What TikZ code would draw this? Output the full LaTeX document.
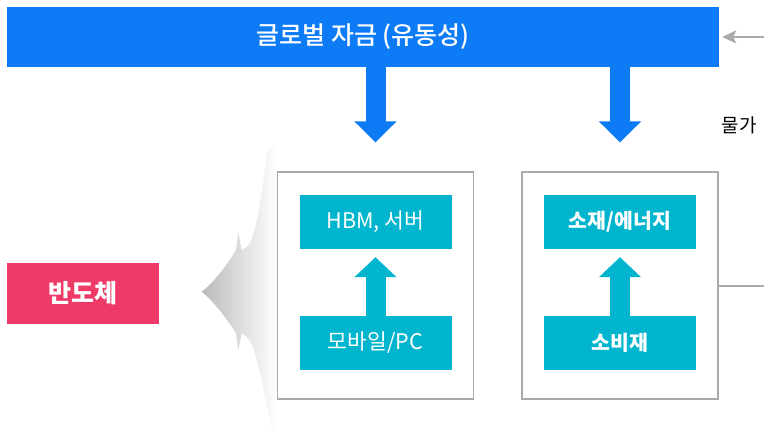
\documentclass[tikz,border=0pt]{standalone}
\usepackage{fontspec}
\setmainfont{Noto Sans CJK KR}
\newfontfamily\krmedium{Noto Sans CJK KR Medium}
\usetikzlibrary{arrows.meta}
\definecolor{fundblue}{HTML}{0D7BF6}
\definecolor{cellteal}{HTML}{00B5CD}
\definecolor{chipred}{HTML}{EE3A66}
\definecolor{linegray}{HTML}{AAAAAA}
\tikzset{
  cell/.style={fill=cellteal, text=white, inner sep=0pt, minimum width=152pt, minimum height=54pt, font=\fontsize{21.5}{24}\selectfont},
  group/.style={draw=linegray, line width=1.2pt, fill=white, inner sep=0pt, minimum width=196pt, minimum height=227pt},
  fatdown/.style={fundblue, line width=20pt, -{Triangle[length=21pt,width=41pt]}},
  fatup/.style={cellteal, line width=20pt, -{Triangle[length=20pt,width=41pt]}},
  thin/.style={linegray, line width=2pt}
}
\newcommand{\cellnode}[4]{\node[cell] (#1) at ( #2 , #3 ) {#4};}
\newcommand{\groupnode}[3]{\node[group] (#1) at ( #2 , #3 ) {};}

\begin{document}
\begin{tikzpicture}[x=1pt,y=1pt]
        \useasboundingbox (0,0) rectangle (764,432);

        % fan behind the groups
        \shade[left color=black!27, right color=white]
          (268,285) .. controls (262,240) and (256,192) .. (246.7,185)
          -- (241.7,182) -- (238.3,199) -- (236,182)
          .. controls (226,165) and (212,148) .. (201.7,140.3)
          .. controls (212,132) and (226,115) .. (236,98.7)
          -- (238.3,82) -- (241.7,98.7) -- (246.7,95.3)
          .. controls (256,88) and (264,40) .. (272,0)
          -- (277,0) -- (277,285) -- cycle;

        % top bar
        \node[fill=fundblue, text=white, inner sep=0pt, minimum width=712pt, minimum height=60pt,
              font=\fontsize{25}{28}\krmedium] (fund) at (363,395) {글로벌 자금 (유동성)};

        % left label
        \node[fill=chipred, text=white, inner sep=0pt, minimum width=152pt, minimum height=61pt,
              font=\fontsize{25}{28}\selectfont\bfseries] (chip) at (83,138.5) {반도체};

        % two groups
        \groupnode{leftgrp}{375.5}{146.5}
        \groupnode{rightgrp}{620}{146.5}

        \cellnode{hbm}{375.5}{210}{HBM, 서버}
        \cellnode{mobile}{375.5}{89}{모바일/PC}
        \cellnode{energy}{620}{210}{\fontsize{20.5}{24}\selectfont\bfseries 소재/에너지}
        \cellnode{consumer}{620}{89}{\fontsize{20.5}{24}\selectfont\bfseries 소비재}

        % arrows
        \draw[fatdown, shorten >=29pt] (fund.south -| leftgrp.north) -- (leftgrp.north);
        \draw[fatdown, shorten >=29pt] (fund.south -| rightgrp.north) -- (rightgrp.north);
        \draw[fatup, shorten >=8pt] (mobile.north) -- (hbm.south);
        \draw[fatup, shorten >=8pt] (consumer.north) -- (energy.south);

        % right side
        \coordinate (rin) at (764,395);
        \coordinate (rout) at (764,146.5);
        \draw[thin, -{Stealth[length=14pt,width=13pt,inset=3pt]}, shorten >=3pt] (rin) -- (fund.east);
        \draw[thin] (rightgrp.east) -- (rout);
        \node[font=\fontsize{19}{22}\selectfont, inner sep=0pt] (price) at (739,307) {물가};

    \end{tikzpicture}
\end{document}
